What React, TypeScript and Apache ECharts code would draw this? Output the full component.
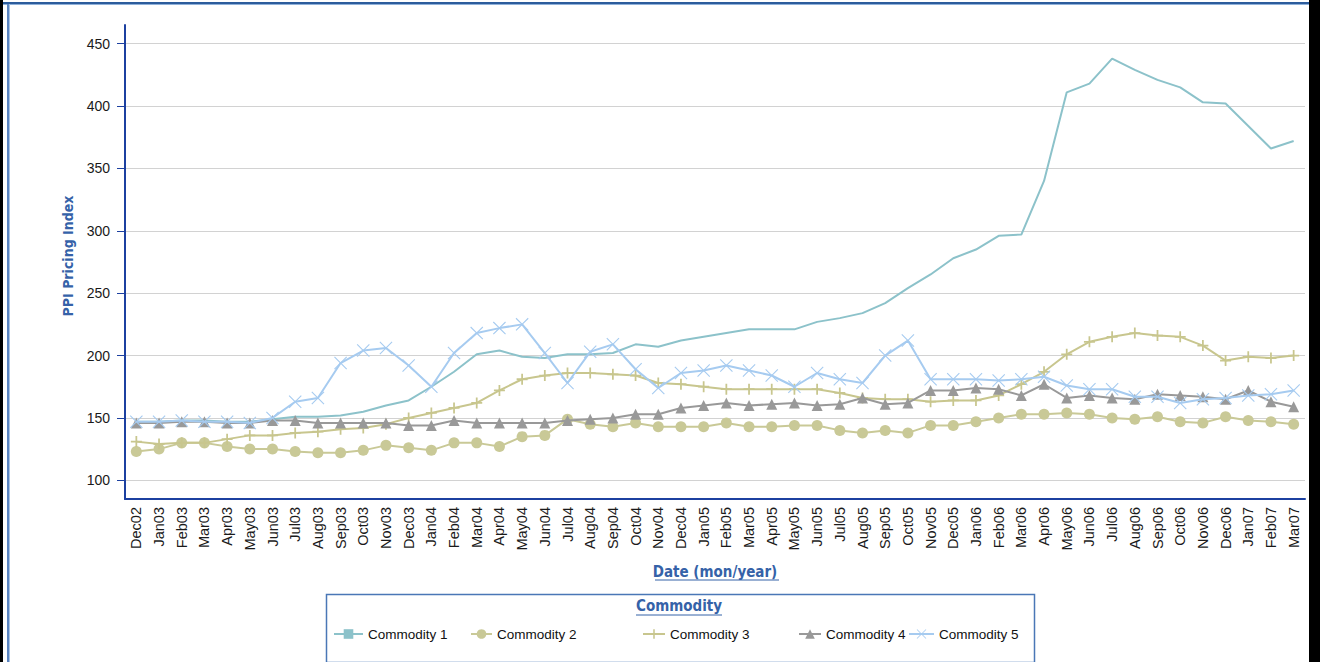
import React, { useEffect, useRef } from 'react';
import * as echarts from 'echarts';

const months = [
  'Dec02', 'Jan03', 'Feb03', 'Mar03', 'Apr03', 'May03', 'Jun03', 'Jul03', 'Aug03', 'Sep03', 'Oct03', 'Nov03', 'Dec03',
  'Jan04', 'Feb04', 'Mar04', 'Apr04', 'May04', 'Jun04', 'Jul04', 'Aug04', 'Sep04', 'Oct04', 'Nov04', 'Dec04',
  'Jan05', 'Feb05', 'Mar05', 'Apr05', 'May05', 'Jun05', 'Jul05', 'Aug05', 'Sep05', 'Oct05', 'Nov05', 'Dec05',
  'Jan06', 'Feb06', 'Mar06', 'Apr06', 'May06', 'Jun06', 'Jul06', 'Aug06', 'Sep06', 'Oct06', 'Nov06', 'Dec06',
  'Jan07', 'Feb07', 'Mar07',
];

const yTicks = [100, 150, 200, 250, 300, 350, 400, 450];

const seriesNames = ['Commodity 1', 'Commodity 2', 'Commodity 3', 'Commodity 4', 'Commodity 5'];

const commodity1 = [
  147, 147, 148, 148, 147, 147, 149, 151, 151, 152, 155, 160, 164,
  175, 187, 201, 204, 199, 198, 201, 201, 202, 209, 207, 212,
  215, 218, 221, 221, 221, 227, 230, 234, 242, 254, 265, 278,
  285, 296, 297, 340, 411, 418, 438, 429, 421, 415, 403, 402,
  384, 366, 372,
];
const commodity2 = [
  123, 125, 130, 130, 127, 125, 125, 123, 122, 122, 124, 128, 126,
  124, 130, 130, 127, 135, 136, 149, 145, 143, 146, 143, 143,
  143, 146, 143, 143, 144, 144, 140, 138, 140, 138, 144, 144,
  147, 150, 153, 153, 154, 153, 150, 149, 151, 147, 146, 151,
  148, 147, 145,
];
const commodity3 = [
  131, 129, 130, 130, 133, 136, 136, 138, 139, 141, 142, 145, 150,
  154, 158, 162, 172, 181, 184, 186, 186, 185, 184, 178, 177,
  175, 173, 173, 173, 173, 173, 170, 166, 165, 165, 163, 164,
  164, 168, 177, 187, 201, 211, 215, 218, 216, 215, 208, 196,
  199, 198, 200,
];
const commodity4 = [
  146, 146, 147, 147, 146, 146, 148, 148, 146, 146, 146, 146, 144,
  144, 148, 146, 146, 146, 146, 148, 149, 150, 153, 153, 158,
  160, 162, 160, 161, 162, 160, 161, 166, 161, 162, 172, 172,
  174, 173, 168, 177, 166, 168, 166, 165, 169, 168, 167, 165,
  172, 163, 159,
];
const commodity5 = [
  147, 147, 148, 147, 147, 146, 150, 163, 166, 194, 204, 206, 192,
  175, 202, 218, 222, 225, 202, 178, 203, 209, 189, 174, 186,
  188, 192, 188, 184, 175, 186, 181, 178, 200, 212, 181, 181,
  181, 180, 181, 183, 176, 173, 173, 167, 167, 162, 165, 166,
  168, 169, 172,
];

const seriesValues = [commodity1, commodity2, commodity3, commodity4, commodity5];

export default function App() {
  const ref = useRef<HTMLDivElement>(null);

  useEffect(() => {
    const chart = echarts.init(ref.current!, null, { renderer: 'svg' });
    const plus = 'path://M4.2,0H5.8V4.2H10V5.8H5.8V10H4.2V5.8H0V4.2H4.2Z';
    const cross = 'path://M0.6,0L5,4.4L9.4,0L10,0.6L5.6,5L10,9.4L9.4,10L5,5.6L0.6,10L0,9.4L4.4,5L0,0.6Z';
    const styles = [
      { color: '#8cc2ca', symbol: 'rect', symbolSize: 8, showSymbol: false },
      { color: '#c9c997', symbol: 'circle', symbolSize: 11, showSymbol: true },
      { color: '#c8c68e', symbol: plus, symbolSize: 11, showSymbol: true },
      { color: '#999999', symbol: 'triangle', symbolSize: 11, showSymbol: true },
      { color: '#a6cbf0', symbol: cross, symbolSize: 13, showSymbol: true },
    ];
    const legendPos = [
      { left: 333, w: 29 },
      { left: 470, w: 21 },
      { left: 642, w: 22 },
      { left: 798, w: 22 },
      { left: 908, w: 25 },
    ];
    const blue = '#1c40a0';
    const titleBlue = '#3562a8';
    const titleFont = '"DejaVu Sans Condensed", "DejaVu Sans", sans-serif';
    const bodyFont = '"Liberation Sans", Arial, sans-serif';

    chart.setOption({
      animation: false,
      backgroundColor: 'transparent',
      grid: { left: 125, right: 15, top: 25, bottom: 163, containLabel: false },
      xAxis: {
        type: 'category',
        data: months,
        boundaryGap: true,
        name: 'Date (mon/year)',
        nameLocation: 'middle',
        nameGap: 65,
        nameTextStyle: { color: titleBlue, fontFamily: titleFont, fontWeight: 'bold', fontSize: 15 },
        axisLine: { lineStyle: { color: blue, width: 2 } },
        axisTick: { alignWithLabel: true, length: 7, lineStyle: { color: blue, width: 1 }, interval: 0 },
        axisLabel: { interval: 0, rotate: 90, margin: 8, color: '#1a1a1a', fontFamily: bodyFont, fontSize: 14.5 },
        splitLine: { show: false },
      },
      yAxis: {
        type: 'value',
        min: 85,
        max: 465,
        name: 'PPI Pricing Index',
        nameLocation: 'middle',
        nameRotate: 90,
        nameGap: 50,
        nameTextStyle: { color: titleBlue, fontFamily: titleFont, fontWeight: 'bold', fontSize: 14, padding: [0, 0, 0, 12] },
        axisLine: { show: true, lineStyle: { color: blue, width: 2 } },
        axisTick: { show: true, length: 8, customValues: yTicks, lineStyle: { color: blue, width: 1 } },
        axisLabel: { customValues: yTicks, margin: 15, color: '#1a1a1a', fontFamily: bodyFont, fontSize: 14 },
        splitLine: { show: true, lineStyle: { color: '#d2d2d2', width: 1 } },
      },
      legend: legendPos.map((p, i) => ({
        data: [seriesNames[i]],
        left: p.left,
        top: 627,
        itemWidth: p.w,
        itemHeight: 12,
        selectedMode: false,
        padding: 0,
        textStyle: { color: '#111', fontFamily: bodyFont, fontSize: 13.5 },
      })),
      graphic: [
        {
          type: 'rect',
          left: 324,
          top: 592,
          shape: { width: 708, height: 68 },
          style: { fill: 'none', stroke: '#4a77b6', lineWidth: 1.5 },
          silent: true,
        },
        {
          type: 'text',
          left: 636,
          top: 598,
          style: { text: 'Commodity', fill: titleBlue, font: `bold 15px ${titleFont}` },
          silent: true,
        },
        {
          type: 'line',
          shape: { x1: 636, y1: 615, x2: 722, y2: 615 },
          style: { stroke: titleBlue, lineWidth: 1 },
          silent: true,
        },
        {
          type: 'line',
          shape: { x1: 655, y1: 580, x2: 779, y2: 580 },
          style: { stroke: titleBlue, lineWidth: 1 },
          silent: true,
        },
      ],
      series: seriesValues.map((vals, i) => ({
        name: seriesNames[i],
        type: 'line',
        data: vals,
        symbol: styles[i].symbol,
        symbolSize: styles[i].symbolSize,
        showSymbol: styles[i].showSymbol,
        lineStyle: { color: styles[i].color, width: 2 },
        itemStyle: { color: styles[i].color, borderWidth: 0 },
        emphasis: { disabled: true },
        z: 2 + i,
      })),
    });
    return () => chart.dispose();
  }, []);

  return (
    <div style={{ position: 'fixed', left: 0, top: 0, width: 1320, height: 662, background: '#fff', overflow: 'hidden' }}>
      <div ref={ref} style={{ position: 'absolute', left: 0, top: 0, width: 1320, height: 662 }} />
      <div style={{ position: 'absolute', left: 0, top: 0, width: 3, height: 662, background: '#000' }} />
      <div style={{ position: 'absolute', left: 1309, top: 0, width: 11, height: 662, background: '#000' }} />
      <div style={{ position: 'absolute', left: 3, top: 2, width: 1306, height: 2, background: '#2c5c9c' }} />
      <div style={{ position: 'absolute', left: 3, top: 4, width: 1306, height: 1, background: '#8fb1da' }} />
      <div style={{ position: 'absolute', left: 7, top: 4, width: 2, height: 658, background: '#5a84c0' }} />
      <div style={{ position: 'absolute', left: 9, top: 4, width: 1, height: 658, background: '#a9c2e2' }} />
    </div>
  );
}
